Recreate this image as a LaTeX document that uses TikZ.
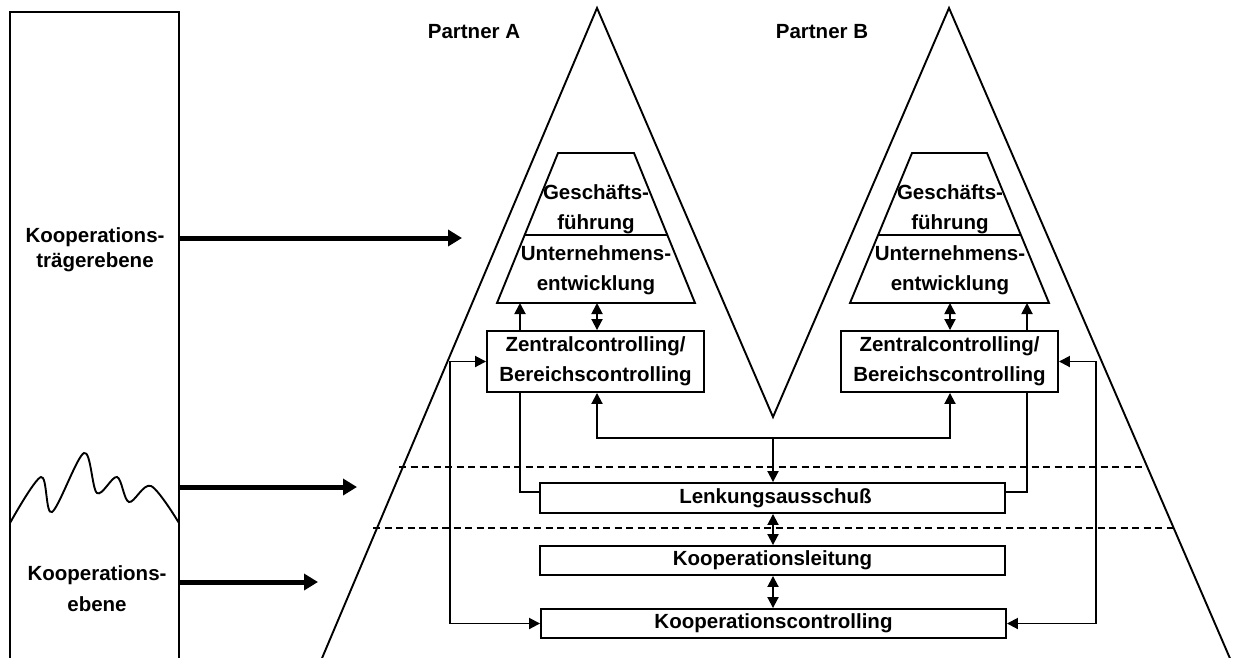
\documentclass[tikz,border=0pt]{standalone}
\usepackage{fontspec}
\setmainfont{Liberation Sans}
\usetikzlibrary{arrows.meta,calc}

\tikzset{
  lbl/.style={font=\bfseries\fontsize{20.5}{30}\selectfont, align=center, inner sep=0pt},
  outline/.style={line width=1.9pt, line join=miter},
  box/.style={draw, line width=1.9pt, inner sep=0pt, lbl},
  conn/.style={line width=1.9pt, -{Triangle[length=11pt,width=11pt]}},
  biconn/.style={line width=1.9pt, {Triangle[length=11pt,width=11pt]}-{Triangle[length=11pt,width=11pt]}},
  bigarrow/.style={line width=5pt, -{Triangle[length=14pt,width=16pt]}},
  level/.style={line width=1.5pt, dash pattern=on 7pt off 4.5pt}
}

\begin{document}
\begin{tikzpicture}[x=1pt,y=-1pt]
\clip (0,0) rectangle (1233,657);
\fill[white] (0,0) rectangle (1233,657);

% left column with the level names
\draw[outline] (10,670) -- (10,12) -- (179,12) -- (179,670);
\draw[line width=1.9pt] plot[smooth, tension=0.55] coordinates
  {(10,523) (41,477) (52,512) (84,453) (97,493) (117,477) (129,502) (151,486) (179,523)};
\node[lbl, text width=170pt, font=\bfseries\fontsize{20.5}{25}\selectfont] (lvtop) at (95,250) {Kooperations-\\trägerebene};
\node[lbl, text width=170pt, font=\bfseries\fontsize{20.5}{31}\selectfont] (lvbot) at (97,589) {Kooperations-\\ebene};
\coordinate (s1) at (179,238);  \coordinate (e1) at (462,238);
\coordinate (s2) at (179,487);  \coordinate (e2) at (357,487);
\coordinate (s3) at (179,582);  \coordinate (e3) at (318,582);
\draw[bigarrow] (s1) -- (e1);
\draw[bigarrow] (s2) -- (e2);
\draw[bigarrow] (s3) -- (e3);

% the two partner pyramids
\draw[outline] (317,670) -- (597,8) -- (773,417) -- (949,8) -- (1235,670);
\node[lbl] (pA) at (474,32) {Partner A};
\node[lbl] (pB) at (822,32) {Partner B};

% level separators
\draw[level] (399,467) -- (1148,467);
\draw[level] (373,528) -- (1174,528);

% management trapezoids
\draw[outline] (497,303) -- (558,153) -- (634,153) -- (695,303) -- cycle;
\draw[line width=1.5pt] (525,235) -- (667,235);
\node[lbl] (gA) at (596,209) {Geschäfts-\\führung};
\node[lbl] (uA) at (596,270) {Unternehmens-\\entwicklung};

\draw[outline] (850,303) -- (912,153) -- (987,153) -- (1049,303) -- cycle;
\draw[line width=1.5pt] (878,235) -- (1021,235);
\node[lbl] (gB) at (950,209) {Geschäfts-\\führung};
\node[lbl] (uB) at (950,270) {Unternehmens-\\entwicklung};

% controlling boxes
\node[box, minimum width=217pt, minimum height=61pt] (zA) at (595.5,361.5) {Zentralcontrolling/\\Bereichscontrolling};
\node[box, minimum width=217pt, minimum height=61pt] (zB) at (949.5,361.5) {Zentralcontrolling/\\Bereichscontrolling};
\node[box, minimum width=465pt, minimum height=30pt] (lenk) at (772.5,498) {\hspace*{6pt}Lenkungsausschuß};
\node[box, minimum width=465pt, minimum height=29pt] (leit) at (772.5,560.5) {Kooperationsleitung};
\node[box, minimum width=465pt, minimum height=29pt] (kctrl) at (773.5,623.5) {Kooperationscontrolling};

% links between trapezoids and controlling boxes
\coordinate (tA1) at (520,303);  \coordinate (tA2) at (597,303);
\coordinate (tB1) at (950,303);  \coordinate (tB2) at (1027,303);
\draw[conn] (tA1 |- zA.north) -- (tA1);
\draw[biconn] (tA2 |- zA.north) -- (tA2);
\draw[biconn] (tB1 |- zB.north) -- (tB1);
\draw[conn] (tB2 |- zB.north) -- (tB2);

% controlling boxes down to the steering committee
\draw[line width=1.9pt] (tA1 |- zA.south) |- ($(lenk.west)+(0,-6)$);
\draw[line width=1.9pt] (tB2 |- zB.south) |- ($(lenk.east)+(0,-6)$);

% joint link between both controlling boxes and the committee
\coordinate (jA) at (597,438);
\coordinate (jB) at (950,438);
\coordinate (jm) at (773,438);
\draw[biconn] (jA |- zA.south) -- (jA) -- (jB) -- (jB |- zB.south);
\draw[conn] (jm) -- (jm |- lenk.north);
\draw[biconn] (jm |- lenk.south) -- (jm |- leit.north);
\draw[biconn] (jm |- leit.south) -- (jm |- kctrl.north);

% outer loops to cooperation controlling
\coordinate (lx) at (450,500);
\coordinate (rx) at (1096,500);
\draw[biconn] (zA.west) -| (lx) |- (kctrl.west);
\draw[biconn] (zB.east) -| (rx) |- (kctrl.east);
\end{tikzpicture}
\end{document}
